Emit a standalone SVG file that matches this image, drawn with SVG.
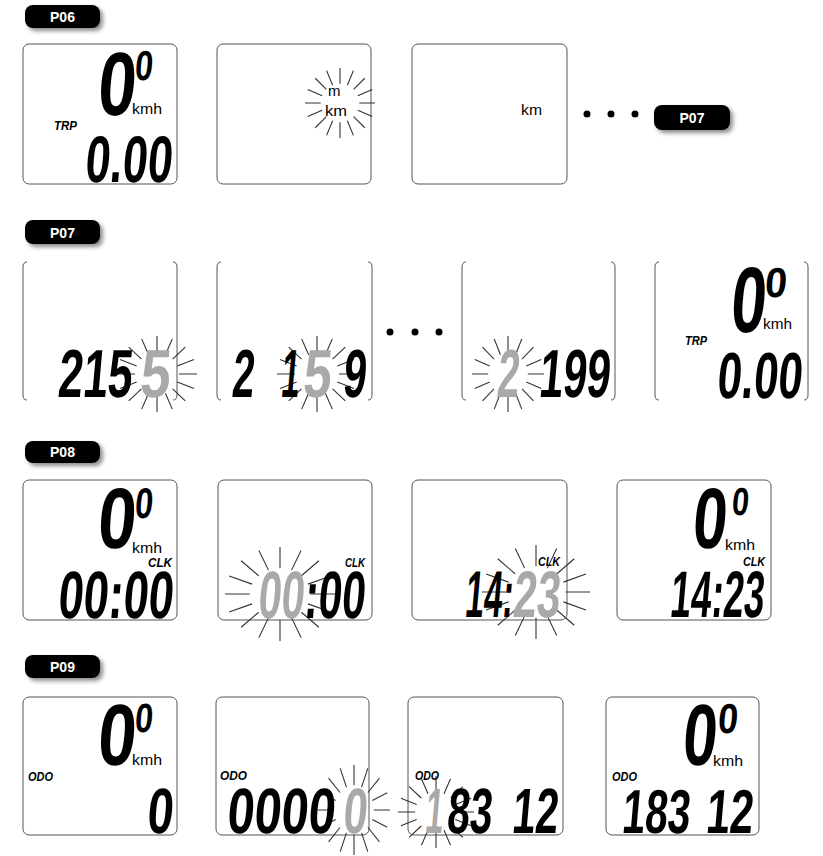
<svg xmlns="http://www.w3.org/2000/svg" width="823" height="856" viewBox="0 0 823 856">
<style>
.scr{fill:#fff;stroke:#555;stroke-width:1}
.brk{fill:none;stroke:#555;stroke-width:1}
.pill{fill:#000}
.pt{fill:#fff;font-family:"Liberation Sans",Arial,sans-serif;font-weight:bold;font-size:14px;text-anchor:middle}
.lcd{font-family:"Liberation Sans",Arial,sans-serif;font-weight:bold;fill:#000}
.gr{fill:#a9a9a9}
.u{font-family:"Liberation Sans",Arial,sans-serif;font-size:15px;fill:#000}
.lb{font-family:"Liberation Sans",Arial,sans-serif;font-weight:bold;font-style:italic;font-size:12px;fill:#000}
.ray{fill:none;stroke:#333;stroke-width:1.1;vector-effect:non-scaling-stroke}
.dot{fill:#000}
</style>
<defs>
<filter id="sh" x="-20%" y="-30%" width="150%" height="180%">
<feDropShadow dx="3" dy="3" stdDeviation="2" flood-color="#000" flood-opacity="0.45"/>
</filter>
<path id="rays" class="ray" d="M0.55 0L1 0M0.508 0.21L0.924 0.383M0.389 0.389L0.707 0.707M0.21 0.508L0.383 0.924M0 0.55L0 1M-0.21 0.508L-0.383 0.924M-0.389 0.389L-0.707 0.707M-0.508 0.21L-0.924 0.383M-0.55 0L-1 0M-0.508 -0.21L-0.924 -0.383M-0.389 -0.389L-0.707 -0.707M-0.21 -0.508L-0.383 -0.924M0 -0.55L0 -1M0.21 -0.508L0.383 -0.924M0.389 -0.389L0.707 -0.707M0.508 -0.21L0.924 -0.383"/>
</defs>
<rect width="823" height="856" fill="#fff"/>

<!-- Row P06 -->
<g id="p06-label"><rect class="pill" x="25" y="5" width="75" height="23" rx="8" filter="url(#sh)"/><text class="pt" x="62.5" y="22">P06</text></g>
<g id="p06-s1">
<rect class="scr" x="23" y="44" width="154" height="140" rx="6"/>
<text class="lcd" transform="translate(96,115) skewX(-5)" font-size="90" textLength="38" lengthAdjust="spacingAndGlyphs">0</text>
<text class="lcd" transform="translate(134,80) skewX(-5)" font-size="42" textLength="18" lengthAdjust="spacingAndGlyphs">0</text>
<text class="u" x="132" y="114" textLength="30" lengthAdjust="spacingAndGlyphs">kmh</text>
<text class="lb" x="54" y="130" textLength="23" lengthAdjust="spacingAndGlyphs">TRP</text>
<text class="lcd" transform="translate(84,182) skewX(-5)" font-size="66" textLength="87" lengthAdjust="spacingAndGlyphs">0.00</text>
</g>
<g id="p06-s2">
<rect class="scr" x="217" y="44" width="154" height="140" rx="6"/>
<use href="#rays" transform="translate(340,103) scale(35)"/>
<text class="u gr" x="328" y="96" font-size="10">m</text>
<text class="u" x="325" y="116" font-size="14" textLength="22" lengthAdjust="spacingAndGlyphs">km</text>
</g>
<g id="p06-s3">
<rect class="scr" x="412" y="44" width="155" height="140" rx="6"/>
<text class="u" x="521" y="115" font-size="14" textLength="21" lengthAdjust="spacingAndGlyphs">km</text>
</g>
<g id="p06-dots"><circle class="dot" cx="587" cy="114" r="3.5"/><circle class="dot" cx="611" cy="114" r="3.5"/><circle class="dot" cx="635" cy="114" r="3.5"/></g>
<g id="p06-next"><rect class="pill" x="654" y="105" width="76" height="25" rx="8" filter="url(#sh)"/><text class="pt" x="692" y="123">P07</text></g>

<!-- Row P07 -->
<g id="p07-label"><rect class="pill" x="25" y="220" width="75" height="24" rx="8" filter="url(#sh)"/><text class="pt" x="62.5" y="238">P07</text></g>
<g id="p07-s1">
<path class="brk" d="M27 262Q23 262 23 267L23 395Q23 400 27 400M173 262Q177 262 177 267L177 395Q177 400 173 400"/>
<use href="#rays" transform="translate(157,374) scale(40,38)"/>
<text class="lcd" transform="translate(57,397) skewX(-5)" font-size="68" textLength="74" lengthAdjust="spacingAndGlyphs">215</text>
<text class="lcd gr" transform="translate(139,397) skewX(-5)" font-size="68" textLength="30" lengthAdjust="spacingAndGlyphs">5</text>
</g>
<g id="p07-s2">
<path class="brk" d="M221 262Q217 262 217 267L217 395Q217 400 221 400M368 262Q372 262 372 267L372 395Q372 400 368 400"/>
<use href="#rays" transform="translate(317,374) scale(40,38)"/>
<text class="lcd" transform="translate(231,397) skewX(-5)" font-size="68" textLength="22" lengthAdjust="spacingAndGlyphs">2</text>
<text class="lcd" transform="translate(280,397) skewX(-5)" font-size="68" textLength="18" lengthAdjust="spacingAndGlyphs">1</text>
<text class="lcd gr" transform="translate(302,397) skewX(-5)" font-size="68" textLength="28" lengthAdjust="spacingAndGlyphs">5</text>
<text class="lcd" transform="translate(342,397) skewX(-5)" font-size="68" textLength="23" lengthAdjust="spacingAndGlyphs">9</text>
</g>
<g id="p07-dots"><circle class="dot" cx="390" cy="332" r="3.5"/><circle class="dot" cx="415" cy="332" r="3.5"/><circle class="dot" cx="439" cy="332" r="3.5"/></g>
<g id="p07-s3">
<path class="brk" d="M466 262Q462 262 462 267L462 395Q462 400 466 400M611 262Q615 262 615 267L615 395Q615 400 611 400"/>
<use href="#rays" transform="translate(508,374) scale(36,38)"/>
<text class="lcd gr" transform="translate(496,397) skewX(-5)" font-size="68" textLength="22" lengthAdjust="spacingAndGlyphs">2</text>
<text class="lcd" transform="translate(538,397) skewX(-5)" font-size="68" textLength="71" lengthAdjust="spacingAndGlyphs">199</text>
</g>
<g id="p07-s4">
<path class="brk" d="M659 262Q655 262 655 267L655 395Q655 400 659 400M804 262Q808 262 808 267L808 395Q808 400 804 400"/>
<text class="lcd" transform="translate(729,332) skewX(-5)" font-size="93" textLength="35" lengthAdjust="spacingAndGlyphs">0</text>
<text class="lcd" transform="translate(764,297) skewX(-5)" font-size="42" textLength="22" lengthAdjust="spacingAndGlyphs">0</text>
<text class="u" x="763" y="329" textLength="29" lengthAdjust="spacingAndGlyphs">kmh</text>
<text class="lb" x="685" y="345" textLength="22" lengthAdjust="spacingAndGlyphs">TRP</text>
<text class="lcd" transform="translate(716,398) skewX(-5) scale(0.672,1)" font-size="65">0.00</text>
</g>

<!-- Row P08 -->
<g id="p08-label"><rect class="pill" x="25" y="441" width="75" height="22" rx="8" filter="url(#sh)"/><text class="pt" x="62.5" y="457">P08</text></g>
<g id="p08-s1">
<rect class="scr" x="23" y="480" width="154" height="140" rx="6"/>
<text class="lcd" transform="translate(96,548) skewX(-5)" font-size="86" textLength="38" lengthAdjust="spacingAndGlyphs">0</text>
<text class="lcd" transform="translate(134,518) skewX(-5)" font-size="43" textLength="18" lengthAdjust="spacingAndGlyphs">0</text>
<text class="u" x="132" y="553" textLength="30" lengthAdjust="spacingAndGlyphs">kmh</text>
<text class="lb" x="148" y="567" textLength="24" lengthAdjust="spacingAndGlyphs">CLK</text>
<text class="lcd" transform="translate(57,618) skewX(-5)" font-size="67" textLength="115" lengthAdjust="spacingAndGlyphs">00:00</text>
</g>
<g id="p08-s2">
<rect class="scr" x="218" y="480" width="154" height="140" rx="6"/>
<use href="#rays" transform="translate(280,594) scale(55,47)"/>
<text class="lcd gr" transform="translate(257,618) skewX(-5)" font-size="67" textLength="46" lengthAdjust="spacingAndGlyphs">00</text>
<text class="lcd" transform="translate(303,618) skewX(-5)" font-size="67" textLength="61" lengthAdjust="spacingAndGlyphs">:00</text>
<text class="lb" x="345" y="567" textLength="20" lengthAdjust="spacingAndGlyphs">CLK</text>
</g>
<g id="p08-s3">
<rect class="scr" x="412" y="480" width="155" height="140" rx="6"/>
<use href="#rays" transform="translate(536,592) scale(54,47)"/>
<text class="lcd" transform="translate(464,617) skewX(-5)" font-size="66" textLength="48" lengthAdjust="spacingAndGlyphs">14:</text>
<text class="lcd gr" transform="translate(512,617) skewX(-5)" font-size="66" textLength="47" lengthAdjust="spacingAndGlyphs">23</text>
<text class="lb" x="538" y="566" textLength="22" lengthAdjust="spacingAndGlyphs">CLK</text>
</g>
<g id="p08-s4">
<rect class="scr" x="617" y="480" width="154" height="140" rx="6"/>
<text class="lcd" transform="translate(691,548) skewX(-5)" font-size="86" textLength="34" lengthAdjust="spacingAndGlyphs">0</text>
<text class="lcd" transform="translate(731,515) skewX(-5)" font-size="39" textLength="17" lengthAdjust="spacingAndGlyphs">0</text>
<text class="u" x="725" y="550" textLength="30" lengthAdjust="spacingAndGlyphs">kmh</text>
<text class="lb" x="743" y="566" textLength="22" lengthAdjust="spacingAndGlyphs">CLK</text>
<text class="lcd" transform="translate(669,617) skewX(-5) scale(0.557,1)" font-size="66">14:23</text>
</g>

<!-- Row P09 -->
<g id="p09-label"><rect class="pill" x="25" y="655" width="75" height="23" rx="8" filter="url(#sh)"/><text class="pt" x="62.5" y="672">P09</text></g>
<g id="p09-s1">
<rect class="scr" x="23" y="697" width="154" height="138" rx="6"/>
<text class="lcd" transform="translate(96,765) skewX(-5)" font-size="87" textLength="38" lengthAdjust="spacingAndGlyphs">0</text>
<text class="lcd" transform="translate(134,732) skewX(-5)" font-size="41" textLength="18" lengthAdjust="spacingAndGlyphs">0</text>
<text class="u" x="132" y="765" textLength="30" lengthAdjust="spacingAndGlyphs">kmh</text>
<text class="lb" x="28" y="781" font-size="11" textLength="25" lengthAdjust="spacingAndGlyphs">ODO</text>
<text class="lcd" transform="translate(146,833) skewX(-5)" font-size="64" textLength="26" lengthAdjust="spacingAndGlyphs">0</text>
</g>
<g id="p09-s2">
<rect class="scr" x="216" y="697" width="153" height="138" rx="6"/>
<use href="#rays" transform="translate(354,810) scale(36,45)"/>
<text class="lb" x="220" y="780" font-size="11" textLength="27" lengthAdjust="spacingAndGlyphs">ODO</text>
<text class="lcd" transform="translate(226,833) skewX(-5)" font-size="64" textLength="108" lengthAdjust="spacingAndGlyphs">0000</text>
<text class="lcd gr" transform="translate(342,833) skewX(-5)" font-size="64" textLength="24" lengthAdjust="spacingAndGlyphs">0</text>
</g>
<g id="p09-s3">
<rect class="scr" x="408" y="697" width="155" height="138" rx="6"/>
<use href="#rays" transform="translate(436,812) scale(38,36)"/>
<text class="lb" x="415" y="780" font-size="11" textLength="24" lengthAdjust="spacingAndGlyphs">ODO</text>
<text class="lcd gr" transform="translate(424,833) skewX(-5)" font-size="64" textLength="18" lengthAdjust="spacingAndGlyphs">1</text>
<text class="lcd" transform="translate(446,833) skewX(-5)" font-size="64" textLength="45" lengthAdjust="spacingAndGlyphs">83</text>
<text class="lcd" transform="translate(511,833) skewX(-5)" font-size="64" textLength="46" lengthAdjust="spacingAndGlyphs">12</text>
</g>
<g id="p09-s4">
<rect class="scr" x="606" y="697" width="153" height="138" rx="6"/>
<text class="lcd" transform="translate(681,765) skewX(-5)" font-size="87" textLength="34" lengthAdjust="spacingAndGlyphs">0</text>
<text class="lcd" transform="translate(717,733) skewX(-5)" font-size="42" textLength="20" lengthAdjust="spacingAndGlyphs">0</text>
<text class="u" x="713" y="766" textLength="30" lengthAdjust="spacingAndGlyphs">kmh</text>
<text class="lb" x="612" y="781" font-size="11" textLength="25" lengthAdjust="spacingAndGlyphs">ODO</text>
<text class="lcd" transform="translate(621,833) skewX(-5)" font-size="62" textLength="68" lengthAdjust="spacingAndGlyphs">183</text>
<text class="lcd" transform="translate(705,833) skewX(-5)" font-size="62" textLength="47" lengthAdjust="spacingAndGlyphs">12</text>
</g>
</svg>
